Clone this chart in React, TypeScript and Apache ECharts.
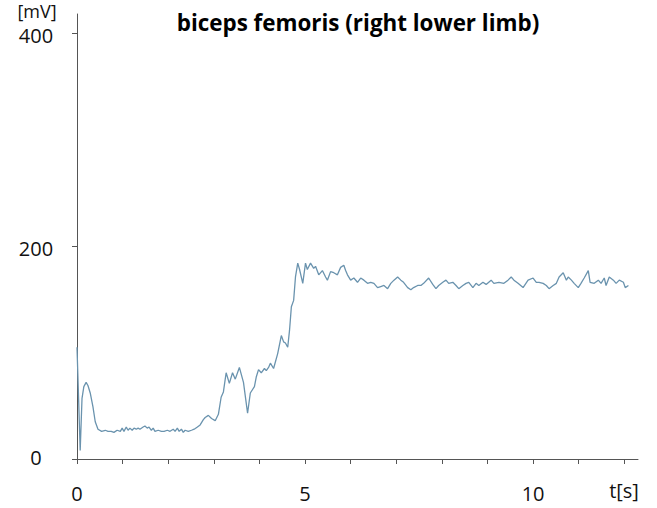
import React, { useEffect, useRef } from "react";
import * as echarts from "echarts";

const titleText = "biceps femoris (right lower limb)";
const yUnit = "[mV]";
const xUnit = "t[s]";
const yTickValues = [0, 200, 400];
const xTickValues = [0, 1, 2, 3, 4, 5, 6, 7, 8, 9, 10, 11, 12];
const xLabelValues = [0, 5, 10];

const times = [
  0, 0.07, 0.11, 0.15, 0.2, 0.24, 0.29, 0.35, 0.4, 0.46, 0.54, 0.62, 0.68, 0.75, 0.81, 0.88, 0.95, 0.99,
  1.03, 1.08, 1.12, 1.16, 1.21, 1.25, 1.3, 1.34, 1.38, 1.45, 1.49, 1.54, 1.58, 1.63, 1.67, 1.71, 1.78,
  1.85, 1.91, 1.98, 2.04, 2.11, 2.15, 2.2, 2.24, 2.29, 2.33, 2.37, 2.44, 2.51, 2.57, 2.64, 2.7, 2.77,
  2.81, 2.88, 2.95, 3.03, 3.1, 3.16, 3.21, 3.27, 3.34, 3.41, 3.47, 3.56, 3.65, 3.74, 3.8, 3.89, 3.93,
  3.98, 4.04, 4.11, 4.15, 4.2, 4.24, 4.31, 4.4, 4.48, 4.53, 4.57, 4.62, 4.66, 4.7, 4.75, 4.79, 4.84,
  4.88, 4.95, 5.01, 5.05, 5.12, 5.19, 5.23, 5.3, 5.38, 5.45, 5.49, 5.56, 5.63, 5.71, 5.78, 5.85, 5.89,
  5.93, 6.0, 6.07, 6.15, 6.22, 6.29, 6.37, 6.44, 6.51, 6.59, 6.66, 6.73, 6.81, 6.88, 6.95, 7.03, 7.1,
  7.16, 7.25, 7.32, 7.38, 7.47, 7.54, 7.6, 7.71, 7.8, 7.87, 7.93, 8.02, 8.09, 8.15, 8.24, 8.31, 8.37,
  8.46, 8.53, 8.59, 8.68, 8.75, 8.81, 8.9, 8.97, 9.08, 9.14, 9.25, 9.36, 9.45, 9.52, 9.58, 9.67, 9.78,
  9.89, 10.0, 10.07, 10.13, 10.22, 10.29, 10.35, 10.44, 10.51, 10.57, 10.66, 10.73, 10.77, 10.84,
  10.9, 10.99, 11.05, 11.12, 11.21, 11.25, 11.34, 11.43, 11.49, 11.56, 11.6, 11.67, 11.76, 11.82,
  11.89, 11.98, 12.02, 12.09,
];

const emg = [
  105, 8, 57, 68, 72, 69, 62, 49, 35, 28, 26, 27, 26, 26, 25, 27, 26, 29,
  26, 30, 27, 29, 27, 29, 28, 29, 28, 30, 31, 29, 30, 27, 29, 26, 27,
  26, 26, 27, 26, 28, 26, 29, 26, 28, 25, 27, 26, 27, 28, 30, 32, 37,
  39, 41, 38, 36, 42, 58, 63, 81, 71, 81, 75, 86, 72, 43, 62, 68, 77,
  84, 81, 85, 83, 86, 90, 85, 99, 116, 110, 109, 105, 121, 143, 149, 171, 184,
  178, 165, 184, 178, 184, 179, 181, 173, 177, 171, 168, 176, 175, 173, 180, 182, 177,
  173, 168, 170, 166, 170, 168, 165, 166, 165, 161, 162, 163, 160, 165, 168, 171, 168,
  166, 161, 159, 161, 163, 163, 165, 170, 164, 160, 163, 166, 168, 165, 166, 163, 160,
  163, 165, 166, 161, 165, 163, 166, 164, 168, 165, 166, 165, 168, 171, 168, 165, 161,
  168, 170, 166, 166, 165, 163, 160, 163, 165, 171, 175, 168, 171, 168,
  165, 161, 165, 170, 177, 166, 165, 168, 165, 170, 163, 171, 168, 165,
  168, 166, 161, 163,
];

export default function App() {
  const ref = useRef<HTMLDivElement>(null);
  useEffect(() => {
    if (!ref.current) return;
    const chart = echarts.init(ref.current, null, { renderer: "svg" });
    const font = "'Open Sans', 'Noto Sans', sans-serif";
    chart.setOption({
      animation: false,
      backgroundColor: "#ffffff",
      textStyle: { fontFamily: font },
      grid: { left: 77, right: 19, top: 14, bottom: 49, containLabel: false },
      xAxis: {
        type: "value",
        min: 0,
        max: 12.3,
        interval: 1,
        splitLine: { show: false },
        axisLine: { lineStyle: { color: "#555", width: 1 } },
        axisTick: { show: true, length: 5, customValues: xTickValues, lineStyle: { color: "#555" } },
        axisLabel: {
          customValues: xLabelValues,
          margin: 24,
          fontSize: 20,
          color: "#111",
          fontFamily: font,
        },
      },
      yAxis: {
        type: "value",
        min: 0,
        max: 418,
        splitLine: { show: false },
        axisLine: { show: true, lineStyle: { color: "#555", width: 1 } },
        axisTick: { show: true, length: 5, customValues: yTickValues, lineStyle: { color: "#555" } },
        axisLabel: {
          customValues: yTickValues,
          margin: 41,
          align: "center",
          fontSize: 20,
          color: "#111",
          fontFamily: font,
          formatter: (v: number) => (v === 0 ? `{z|${v}}` : `{d|${v}}`),
          rich: {
            z: { fontSize: 20, color: "#111", fontFamily: font, padding: [0, 0, 4, 0] },
            d: { fontSize: 20, color: "#111", fontFamily: font, padding: [4, 0, 0, 0] },
          },
        },
      },
      graphic: [
        {
          type: "text",
          x: 358,
          y: 22,
          style: {
            text: titleText,
            font: `bold 22.4px ${font}`,
            fill: "#000",
            textAlign: "center",
            textVerticalAlign: "middle",
          },
        },
        {
          type: "text",
          x: 37,
          y: 11,
          style: {
            text: yUnit,
            font: `18px ${font}`,
            fill: "#111",
            textAlign: "center",
            textVerticalAlign: "middle",
          },
        },
        {
          type: "text",
          x: 624,
          y: 490,
          style: {
            text: xUnit,
            font: `20px ${font}`,
            fill: "#111",
            textAlign: "center",
            textVerticalAlign: "middle",
          },
        },
      ],
      series: [
        {
          type: "line",
          data: times.map((t, i) => [t, emg[i]]),
          showSymbol: false,
          symbol: "none",
          lineStyle: { color: "#6a93ae", width: 1.3 },
          silent: true,
        },
      ],
    });
    return () => chart.dispose();
  }, []);
  return <div ref={ref} style={{ width: 657, height: 508, position: "absolute", left: 0, top: 0 }} />;
}
